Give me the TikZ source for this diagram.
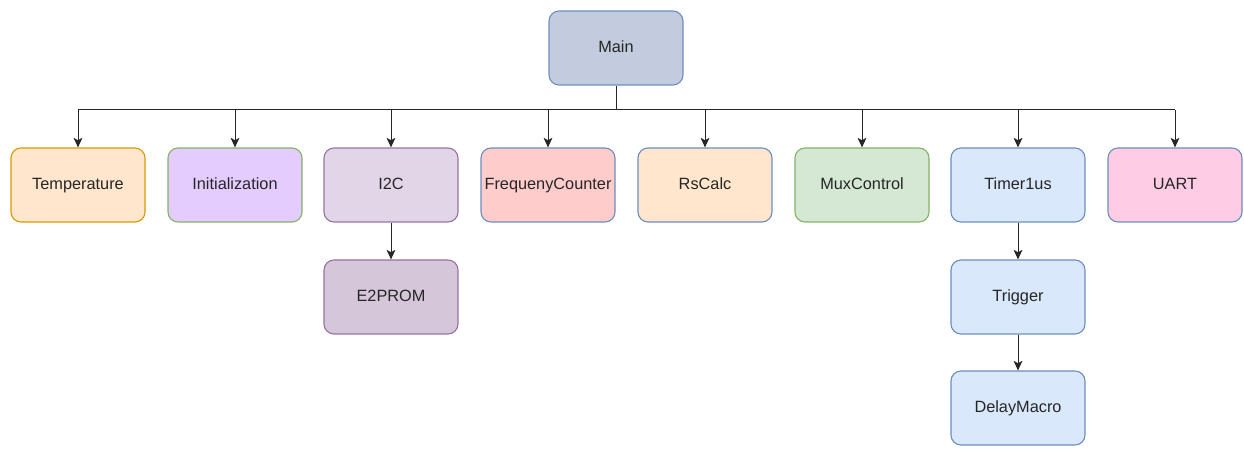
\documentclass[tikz,border=0pt]{standalone}
\usepackage{fontspec}
\setmainfont{Liberation Sans}
\usetikzlibrary{arrows.meta,positioning}

\definecolor{mainfill}{HTML}{C2CCDE}
\definecolor{bluefill}{HTML}{DAE8FC}
\definecolor{bluedraw}{HTML}{6C8EBF}
\definecolor{orangefill}{HTML}{FFE6CC}
\definecolor{orangedraw}{HTML}{D79B00}
\definecolor{lilacfill}{HTML}{E5CCFF}
\definecolor{greenfill}{HTML}{D5E8D4}
\definecolor{greendraw}{HTML}{82B366}
\definecolor{mauvefill}{HTML}{E1D5E7}
\definecolor{mauvedark}{HTML}{D5C6DA}
\definecolor{mauvedraw}{HTML}{9673A6}
\definecolor{redfill}{HTML}{FFCCCC}
\definecolor{pinkfill}{HTML}{FFCCE6}

\begin{document}
\begin{tikzpicture}[
  font=\fontsize{11.6}{13}\selectfont,
  blk/.style={rounded corners=0.25cm, minimum width=3.35cm, minimum height=1.85cm,
              inner sep=1pt, align=center, line width=0.8pt, text=black!85,
              text height=1.6ex, text depth=0.45ex},
  mod/.style={blk, draw=bluedraw, fill=bluefill},
  link/.style={draw=black!85, line width=0.7pt},
  arr/.style={link, -{Stealth[length=2.4mm, width=2.2mm, inset=0.6mm]}}
]
\useasboundingbox (0,0) rectangle (31.1,11.325);

% ---- top module
\node[blk, draw=bluedraw, fill=mainfill] (main) at (15.4,10.125) {Main};

% ---- first level
\node[blk, draw=orangedraw, fill=orangefill] (temp) at (1.95,6.7)   {Temperature};
\node[blk, draw=greendraw, fill=lilacfill]   (init) at (5.875,6.7)  {Initialization};
\node[blk, draw=mauvedraw, fill=mauvefill]   (iic)  at (9.775,6.7)  {I2C};
\node[blk, draw=bluedraw, fill=redfill]      (freq) at (13.7,6.7)   {FrequenyCounter};
\node[blk, draw=bluedraw, fill=orangefill]   (rs)   at (17.625,6.7) {RsCalc};
\node[blk, draw=greendraw, fill=greenfill]   (mux)  at (21.55,6.7)  {MuxControl};
\node[mod]                                   (tmr)  at (25.45,6.7)  {Timer1us};
\node[blk, draw=bluedraw, fill=pinkfill]     (uart) at (29.375,6.7) {UART};

% ---- lower levels
\node[blk, draw=mauvedraw, fill=mauvedark] (eep)   at (9.775,3.9)  {E2PROM};
\node[mod]                                 (trig)  at (25.45,3.9)  {Trigger};
\node[mod]                                 (delay) at (25.45,1.125){DelayMacro};

% ---- bus from Main to the first level
\coordinate (bus) at (15.4,8.575);
\draw[link] (main.south) -- (bus);
\draw[link] (temp.north |- bus) -- (uart.north |- bus);
\foreach \n in {temp,init,iic,freq,rs,mux,tmr,uart}
  \draw[arr] (\n.north |- bus) -- (\n.north);

% ---- chains below
\draw[arr] (iic.south) -- (eep.north);
\draw[arr] (tmr.south) -- (trig.north);
\draw[arr] (trig.south) -- (delay.north);
\end{tikzpicture}
\end{document}
